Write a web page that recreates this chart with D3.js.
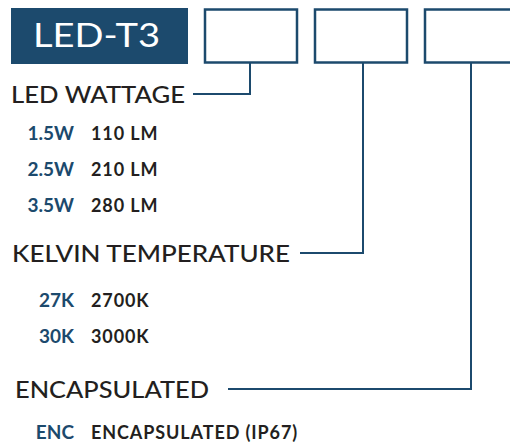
<!DOCTYPE html>
<html>
<head>
<meta charset="utf-8">
<script src="https://cdn.jsdelivr.net/npm/d3@7"></script>
<style>
  html, body { margin: 0; padding: 0; background: #fff; }
  text { font-family: Lato, "Noto Sans", sans-serif; }
</style>
</head>
<body>
<div id="chart"></div>
<script>
var width = 510,
    height = 443;

var blue = "#1c4a6d",
    ink = "#231f20";

// ordering code parts
var title = "LED-T3";
var sections = ["LED WATTAGE", "KELVIN TEMPERATURE", "ENCAPSULATED"];

var wattCodes = ["1.5W", "2.5W", "3.5W"];
var wattDesc = ["110 LM", "210 LM", "280 LM"];

var kelvinCodes = ["27K", "30K"];
var kelvinDesc = ["2700K", "3000K"];

var encCodes = ["ENC"];
var encDesc = ["ENCAPSULATED (IP67)"];

var groups = [
  {name: sections[0], codes: wattCodes, desc: wattDesc},
  {name: sections[1], codes: kelvinCodes, desc: kelvinDesc},
  {name: sections[2], codes: encCodes, desc: encDesc}
];

var svg = d3.select("#chart").append("svg")
    .attr("width", width)
    .attr("height", height);

// boxes along the top (last one runs off the edge)
var xBox = d3.scaleBand()
    .domain(sections)
    .range([205, 517])
    .paddingInner(18 / 110)
    .paddingOuter(0);

// header baselines and item row spacing
var headerY = d3.scaleOrdinal()
    .domain(sections)
    .range([103, 262, 398]);
var firstGap = [37, 45, 41];
var rowStep = 36;

var headerEnd = [187, 294, 222];

// title block
svg.append("rect")
    .attr("x", 11)
    .attr("y", 8)
    .attr("width", 177)
    .attr("height", 56)
    .attr("fill", blue);

svg.append("text")
    .attr("x", 33)
    .attr("y", 47)
    .attr("fill", "#fff")
    .attr("font-size", 33)
    .attr("textLength", 127)
    .attr("lengthAdjust", "spacingAndGlyphs")
    .text(title);

svg.selectAll(".box")
    .data(sections)
  .enter().append("rect")
    .attr("class", "box")
    .attr("x", function(d) { return xBox(d); })
    .attr("y", 9.5)
    .attr("width", xBox.bandwidth())
    .attr("height", 53)
    .attr("fill", "none")
    .attr("stroke", blue)
    .attr("stroke-width", 2.5);

// connectors from boxes down to headers
var cx = [250, 363, 471];
svg.selectAll(".conn")
    .data(sections)
  .enter().append("path")
    .attr("class", "conn")
    .attr("fill", "none")
    .attr("stroke", blue)
    .attr("stroke-width", 2)
    .attr("d", function(d, i) {
      var y = headerY(d) - 9;
      return "M" + cx[i] + ",63V" + y + "H" + (headerEnd[i] + 6);
    });

var headerX = [11, 12, 15];
var headerW = [174, 278, 194];

groups.forEach(function(g, i) {
  var y0 = headerY(g.name);

  svg.append("text")
    .attr("x", headerX[i])
    .attr("y", y0)
    .attr("fill", ink)
    .attr("font-size", 23)
    .attr("font-weight", 500)
    .attr("textLength", headerW[i])
    .attr("lengthAdjust", "spacingAndGlyphs")
    .text(g.name);

  var yRow = d3.scaleLinear()
    .domain([0, 1])
    .range([y0 + firstGap[i], y0 + firstGap[i] + rowStep]);

  var rows = svg.selectAll(".row" + i)
      .data(g.codes)
    .enter().append("g")
      .attr("class", "row" + i)
      .attr("transform", function(d, j) { return "translate(0," + yRow(j) + ")"; });

  rows.append("text")
      .attr("x", 74)
      .attr("text-anchor", "end")
      .attr("fill", blue)
      .attr("font-size", 19)
      .attr("font-weight", 700)
      .text(function(d) { return d; });

  rows.append("text")
      .attr("x", 91)
      .attr("fill", ink)
      .attr("font-size", 18)
      .attr("font-weight", 700)
      .attr("letter-spacing", 0.9)
      .text(function(d, j) { return g.desc[j]; });
});
</script>
</body>
</html>
